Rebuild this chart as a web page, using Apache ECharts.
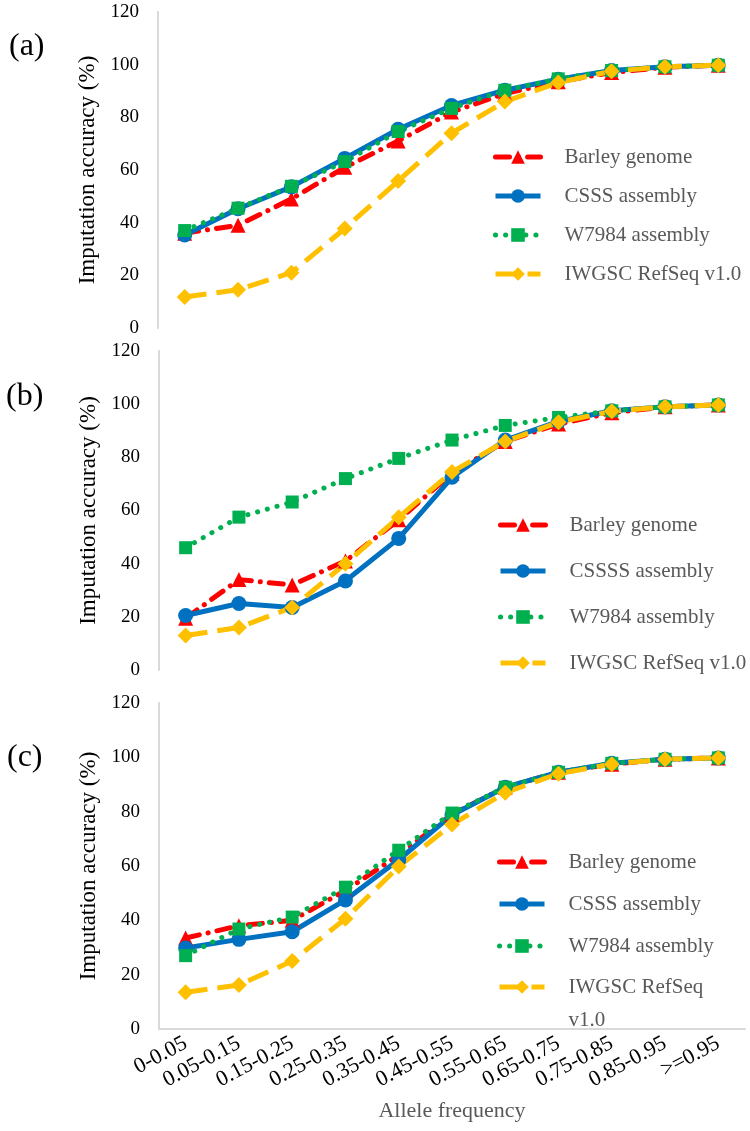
<!DOCTYPE html>
<html>
<head>
<meta charset="utf-8">
<script src="https://cdn.jsdelivr.net/npm/echarts@6/dist/echarts.min.js"></script>
<style>
  html, body { margin: 0; padding: 0; background: #fff; }
  #chart { width: 750px; height: 1131px; }
</style>
</head>
<body>
<div id="chart"></div>
<script>
const categories = ["0-0.05", "0.05-0.15", "0.15-0.25", "0.25-0.35", "0.35-0.45", "0.45-0.55",
  "0.55-0.65", "0.65-0.75", "0.75-0.85", "0.85-0.95", ">=0.95"];
const yTicks = [0, 20, 40, 60, 80, 100, 120];

// panel (a)
const barleyA = [36, 39, 49, 61, 71, 82, 89, 93.5, 97, 99, 99.8];
const csssA   = [35.3, 45.3, 53.6, 64.4, 75.5, 84.5, 90.3, 94.5, 97.8, 99.2, 99.8];
const w7984A  = [37, 45.5, 53.8, 63.2, 74.6, 83.4, 90.3, 94.6, 97.8, 99.2, 99.8];
const iwgscA  = [11.8, 14.5, 21, 37.8, 55.8, 74, 86, 93.2, 97.5, 99.2, 99.8];

// panel (b)
const barleyB = [19.5, 34, 32, 41, 56.5, 74, 86, 92.5, 96.8, 99, 99.7];
const csssB   = [20.5, 25, 23.5, 33.5, 49.5, 72.5, 86.5, 93.5, 97.5, 99, 99.7];
const w7984B  = [46, 57.5, 63.2, 72, 79.6, 86.5, 92, 95, 97.5, 99, 99.7];
const iwgscB  = [13, 16, 23.5, 40, 57.5, 74.5, 86, 93.2, 97.3, 99, 99.7];

// panel (c)
const barleyC = [33.5, 38, 40, 51, 64, 79, 89, 94.5, 97.5, 99.3, 99.8];
const csssC   = [29.8, 33, 35.8, 47.5, 62.3, 78.8, 89, 94.5, 97.8, 99.3, 99.8];
const w7984C  = [27, 36.8, 41.2, 52.2, 65.8, 79.5, 89, 94.5, 97.8, 99.3, 99.8];
const iwgscC  = [13.5, 16.2, 25, 40.6, 59.8, 75.3, 87, 94, 97.5, 99.3, 99.8];

const namesA = ["Barley genome", "CSSS assembly", "W7984 assembly", "IWGSC RefSeq v1.0"];
const namesB = ["Barley genome", "CSSSS assembly", "W7984 assembly", "IWGSC RefSeq v1.0"];
const namesC = ["Barley genome", "CSSS assembly", "W7984 assembly", "IWGSC RefSeq\nv1.0"];

const FONT = "Liberation Serif";
const GRAY = "#595959";

// 4 line styles: red dash-dot triangle, blue solid circle, green dots square, yellow dash diamond
const styles = [
  { color: "#FF0000", symbol: "triangle", size: 15, type: [14, 9, 0.1, 9], cap: "round" },
  { color: "#0070C0", symbol: "circle", size: 15, type: "solid", cap: "butt" },
  { color: "#00B050", symbol: "rect", size: 13, type: [0.1, 10], cap: "round" },
  { color: "#FFC000", symbol: "diamond", size: 16, type: [22, 10], cap: "butt" }
];

function makeSeries(names, datas, idx) {
  return datas.map((d, i) => ({
    name: names[i],
    type: "line",
    xAxisIndex: idx,
    yAxisIndex: idx,
    data: d,
    symbol: styles[i].symbol,
    symbolSize: styles[i].size,
    itemStyle: { color: styles[i].color },
    lineStyle: { color: styles[i].color, width: 5, type: styles[i].type, cap: styles[i].cap },
    emphasis: { disabled: true }
  }));
}

const grids = [
  { left: 158, width: 587, top: 12, height: 316 },
  { left: 159, width: 586, top: 351, height: 319 },
  { left: 159, width: 586, top: 703, height: 326 }
];

const yAxes = grids.map((g, i) => ({
  type: "value",
  gridIndex: i,
  min: yTicks[0],
  max: yTicks[yTicks.length - 1],
  interval: 20,
  name: "Imputation accuracy (%)",
  nameLocation: "middle",
  nameGap: 58,
  nameTextStyle: { fontFamily: FONT, fontSize: 23, color: "#000" },
  axisLine: { show: true, lineStyle: { color: "#d9d9d9", width: 2 } },
  axisTick: { show: false },
  splitLine: { show: false },
  axisLabel: { fontFamily: FONT, fontSize: 19, color: "#000", margin: 19 }
}));

const xAxes = grids.map((g, i) => ({
  type: "category",
  gridIndex: i,
  data: categories,
  boundaryGap: true,
  axisLine: { show: i === 2, lineStyle: { color: "#d9d9d9", width: 2 } },
  axisTick: { show: false },
  axisLabel: { show: i === 2, interval: 0, rotate: 28, margin: 13, fontFamily: FONT, fontSize: 22, color: "#000" },
  name: i === 2 ? "Allele frequency" : "",
  nameLocation: "middle",
  nameGap: 71,
  nameTextStyle: { fontFamily: FONT, fontSize: 22, color: GRAY }
}));

function legendBox(names, left, top, gap, lh) {
  return {
    orient: "vertical",
    left: left,
    top: top,
    padding: 0,
    itemGap: gap,
    itemWidth: 45,
    itemHeight: 17,
    data: names,
    // two-line name: blank first line so the first text line sits on the icon
    formatter: n => n.indexOf("\n") >= 0 ? "\n" + n : n,
    lineStyle: { width: 5 },
    textStyle: { fontFamily: FONT, fontSize: 21, color: GRAY, lineHeight: lh, padding: [0, 0, 0, 19] }
  };
}

const chart = echarts.init(document.getElementById("chart"));
chart.setOption({
  animation: false,
  backgroundColor: "#fff",
  title: [
    { text: "(a)", left: 9, top: 31 },
    { text: "(b)", left: 6, top: 381 },
    { text: "(c)", left: 7, top: 742 }
  ].map(t => Object.assign(t, { padding: 0, textStyle: { fontFamily: FONT, fontSize: 32, fontWeight: "normal", color: "#000" } })),
  legend: [
    legendBox(namesA, 493, 146, 17, 22),
    legendBox(namesB, 498, 514, 24, 22),
    legendBox(namesC.slice(0, 3), 497, 851, 20, 22),
    legendBox(namesC.slice(3), 497, 987 - 49.5, 0, 33)
  ],
  grid: grids,
  xAxis: xAxes,
  yAxis: yAxes,
  series: [
    ...makeSeries(namesA, [barleyA, csssA, w7984A, iwgscA], 0),
    ...makeSeries(namesB, [barleyB, csssB, w7984B, iwgscB], 1),
    ...makeSeries(namesC, [barleyC, csssC, w7984C, iwgscC], 2)
  ]
});
</script>
</body>
</html>
